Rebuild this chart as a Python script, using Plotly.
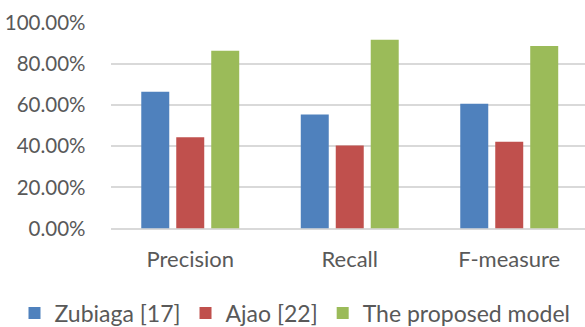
import plotly.graph_objects as go

categories = ["Precision", "Recall", "F-measure"]
zubiaga = [0.665, 0.555, 0.607]
ajao = [0.444, 0.404, 0.422]
proposed = [0.865, 0.919, 0.888]
series_names = ["Zubiaga [17]", "Ajao [22]", "The proposed model"]
colors = ["#4F81BD", "#C0504D", "#9BBB59"]
y_ticks = [0, 0.2, 0.4, 0.6, 0.8, 1.0]

FONT = "Lato"
GRAY = "#595959"
W, H = 585, 327

fig = go.Figure()
for name, vals, col in zip(series_names, [zubiaga, ajao, proposed], colors):
    fig.add_trace(go.Bar(x=categories, y=vals, name=name, marker_color=col,
                         marker_line_width=0))

fig.update_layout(
    width=W, height=H,
    margin=dict(l=0, r=0, t=0, b=0, autoexpand=False),
    paper_bgcolor="white", plot_bgcolor="white",
    barmode="group", bargap=0.342, bargroupgap=0.2,
    font=dict(family=FONT, color=GRAY),
    showlegend=True,
    legend=dict(orientation="h", x=295 / W, xanchor="center",
                y=(H - 313) / H, yanchor="middle",
                font=dict(size=23, color=GRAY, family=FONT),
                itemwidth=30, tracegroupgap=0, borderwidth=0,
                bgcolor="rgba(0,0,0,0)"),
)
fig.update_xaxes(domain=[110.5 / W, 1], range=[-0.5, 2.475], showgrid=False,
                 showline=False, zeroline=False, ticks="",
                 tickfont=dict(size=22, color=GRAY), ticklabelstandoff=15,
                 automargin=False)
fig.update_yaxes(domain=[(H - 228.5) / H, (H - 23) / H], range=[0, 1.0],
                 tickvals=y_ticks, tickformat=".2%",
                 showgrid=True, gridcolor="#D9D9D9", gridwidth=1.5,
                 zeroline=True, zerolinecolor="#D9D9D9", zerolinewidth=1.5,
                 showline=False, ticks="", tickfont=dict(size=20.5, color=GRAY),
                 ticklabelstandoff=24, automargin=False)

fig.write_html("out.html")
